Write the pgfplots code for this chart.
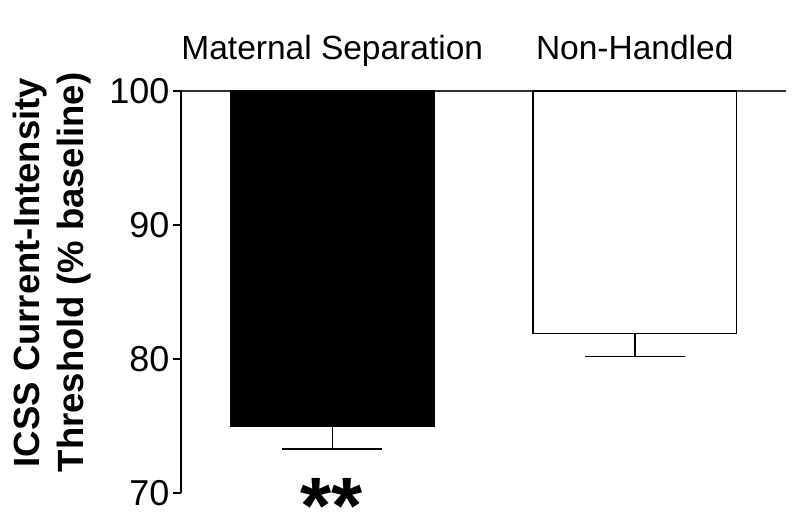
\documentclass[border=0pt]{standalone}
\usepackage{fontspec}
\setmainfont{Liberation Sans}
\usepackage{pgfplots}
\usepackage{pgfplotstable}
\pgfplotsset{compat=1.18}
\pgfplotstableread{
x v e
0 75.0 1.7
}\msdata
\pgfplotstableread{
x v e
1 81.9 1.7
}\nhdata
\begin{document}
\begin{tikzpicture}[x=1pt,y=1pt]
\path[use as bounding box] (0,0) rectangle (800,527);
\begin{axis}[
  at={(181pt,34pt)}, anchor=south west,
  scale only axis, width=605pt, height=402pt,
  clip=false,
  xmin=-0.5, xmax=1.5, ymin=-30, ymax=0,
  axis x line=top, axis y line=left,
  axis line style={-},
  x axis line style={line width=1.1pt, black!80},
  y axis line style={line width=1.5pt, black},
  xtick={0,1}, xticklabels={Maternal Separation, Non-Handled},
  xtick style={draw=none},
  xticklabel style={font=\fontsize{33.5}{38}\selectfont, anchor=base, yshift=23pt},
  ytick={-30,-20,-10,0}, yticklabels={70,80,90,100},
  ytick style={line width=1.5pt, black},
  tick align=outside, major tick length=8pt,
  yticklabel style={font=\fontsize{36}{40}\selectfont},
]
\addplot[ybar, bar shift=0pt, bar width=0.672, fill=black, draw=black, line width=1.5pt,
  error bars/.cd, y dir=minus, y explicit, error mark=|,
  error bar style={line width=1.5pt, black},
  error mark options={line width=1.5pt, mark size=50pt, black}]
  table[x=x, y expr=\thisrow{v}-100, y error=e] {\msdata};
\addplot[ybar, bar shift=0pt, bar width=0.672, fill=white, draw=black, line width=1.5pt,
  error bars/.cd, y dir=minus, y explicit, error mark=|,
  error bar style={line width=1.5pt, black},
  error mark options={line width=1.5pt, mark size=50pt, black}]
  table[x=x, y expr=\thisrow{v}-100, y error=e] {\nhdata};
\end{axis}
\node[rotate=90, align=center, inner sep=0pt, font=\bfseries\fontsize{36.5}{44}\selectfont] at (52,254.5) {ICSS Current-Intensity\\Threshold (\% baseline)};
\node[anchor=base, inner sep=0pt, font=\bfseries\fontsize{80}{85}\selectfont] at (332,-6) {**};
\end{tikzpicture}
\end{document}
